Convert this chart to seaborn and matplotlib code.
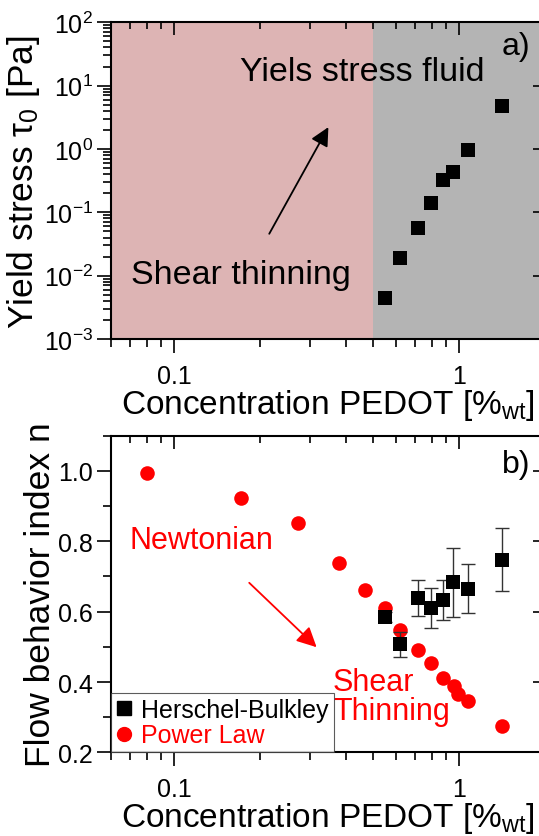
import matplotlib
matplotlib.use("Agg")
import matplotlib.pyplot as plt
import matplotlib.ticker as mticker
import numpy as np
import seaborn as sns

# ---------------------------------------------------------------
# Data
# ---------------------------------------------------------------
# a) yield stress from Herschel-Bulkley fits
hb_conc = [0.548, 0.618, 0.717, 0.796, 0.875, 0.955, 1.078, 1.41]
hb_tau0 = [0.0045, 0.019, 0.056, 0.14, 0.326, 0.435, 0.98, 4.73]

# b) flow behaviour index
hb_n = [0.585, 0.507, 0.639, 0.611, 0.632, 0.684, 0.665, 0.748]
hb_n_err = [0.015, 0.036, 0.052, 0.057, 0.057, 0.098, 0.069, 0.09]

pl_conc = [0.080, 0.171, 0.271, 0.380, 0.469, 0.548, 0.618, 0.717, 0.796,
           0.875, 0.960, 0.994, 1.078, 1.41]
pl_n = [0.995, 0.923, 0.853, 0.738, 0.662, 0.611, 0.547, 0.490, 0.454,
        0.412, 0.390, 0.366, 0.347, 0.276]

REGION_SPLIT = 0.5  # boundary shear thinning / yield stress fluid
X_LIM = (0.06, 2.0)
X_MAJOR = [0.1, 1]

PINK = "#ddb4b4"
GREY = "#b4b4b4"
RED = "#ff0000"

X_LABEL = "Concentration PEDOT [%$_{\\mathrm{wt}}$]"
TICK_FS = 18
LABEL_FS = 24
YLABEL_FS = 25.5


def log_minor():
    return mticker.LogLocator(base=10, subs=np.arange(2, 10), numticks=12)


def set_log_x(ax):
    ax.set_xscale("log")
    ax.set_xlim(*X_LIM)
    ax.xaxis.set_major_locator(mticker.FixedLocator(X_MAJOR))
    ax.xaxis.set_minor_locator(log_minor())
    ax.xaxis.set_minor_formatter(mticker.NullFormatter())


def style_axes(ax):
    set_log_x(ax)
    ax.xaxis.set_major_formatter(mticker.FixedFormatter(["0.1", "1"]))
    ax.tick_params(axis="both", which="both", width=1.2, direction="out",
                   top=False, right=False, labelsize=TICK_FS)
    ax.tick_params(axis="both", which="major", length=10)
    ax.tick_params(axis="both", which="minor", length=5.5)
    ax.tick_params(axis="x", which="major", pad=8)
    ax.tick_params(axis="y", which="major", pad=3)
    for sp in ax.spines.values():
        sp.set_linewidth(1.5)
        sp.set_color("black")

    # inward ticks on the top and right sides
    top = ax.twiny()
    set_log_x(top)
    top.xaxis.set_major_formatter(mticker.NullFormatter())
    top.tick_params(axis="x", which="both", direction="in", width=1.2,
                    top=True, bottom=False, labeltop=False, labelbottom=False)
    top.tick_params(axis="x", which="major", length=9)
    top.tick_params(axis="x", which="minor", length=5)

    right = ax.twinx()
    right.set_yscale(ax.get_yscale())
    right.set_ylim(ax.get_ylim())
    right.yaxis.set_major_locator(ax.yaxis.get_major_locator())
    right.yaxis.set_major_formatter(mticker.NullFormatter())
    right.yaxis.set_minor_formatter(mticker.NullFormatter())
    right.tick_params(axis="y", which="both", direction="in", width=1.2,
                      right=True, left=False, labelright=False, labelleft=False)
    right.tick_params(axis="y", which="major", length=9)
    right.tick_params(axis="y", which="minor", length=4)
    for tw in (top, right):
        for sp in tw.spines.values():
            sp.set_visible(False)
    return top, right


def main():
    sns.set_style("ticks")
    plt.rcParams["font.family"] = ["Liberation Sans", "DejaVu Sans"]
    plt.rcParams["mathtext.fontset"] = "custom"
    plt.rcParams["mathtext.rm"] = "Liberation Sans"
    plt.rcParams["mathtext.it"] = "Liberation Sans:italic"
    plt.rcParams["mathtext.bf"] = "Liberation Sans:bold"
    plt.rcParams["mathtext.default"] = "regular"
    for key in ["text.color", "axes.labelcolor", "xtick.color", "ytick.color"]:
        plt.rcParams[key] = "black"

    fig = plt.figure(figsize=(5.39, 8.37), dpi=100)
    ax_a = fig.add_axes([0.206, 0.5938, 0.805, 0.3784])
    ax_b = fig.add_axes([0.206, 0.0998, 0.805, 0.3785])

    # ------------------------------------------------------------------
    # a) yield stress
    # ------------------------------------------------------------------
    ax_a.axvspan(X_LIM[0], REGION_SPLIT, color=PINK, lw=0, zorder=0)
    ax_a.axvspan(REGION_SPLIT, X_LIM[1], color=GREY, lw=0, zorder=0)
    sns.scatterplot(x=hb_conc, y=hb_tau0, marker="s", s=95, color="black",
                    edgecolor="black", linewidth=0, ax=ax_a, zorder=3, legend=False)
    ax_a.set_yscale("log")
    ax_a.set_ylim(1e-3, 1e2)
    ax_a.yaxis.set_major_locator(mticker.LogLocator(base=10, numticks=12))
    ax_a.yaxis.set_major_formatter(mticker.LogFormatterMathtext())
    ax_a.yaxis.set_minor_locator(log_minor())
    ax_a.yaxis.set_minor_formatter(mticker.NullFormatter())
    top_a, right_a = style_axes(ax_a)
    right_a.yaxis.set_minor_locator(log_minor())

    ax_a.set_xlabel(X_LABEL, fontsize=LABEL_FS, labelpad=-1)
    ax_a.set_ylabel("Yield stress τ$_0$ [Pa]", fontsize=YLABEL_FS, labelpad=1)

    ax_a.text(0.297, 0.846, "Yiels stress fluid", transform=ax_a.transAxes,
              fontsize=24.5, ha="left", va="center")
    ax_a.text(0.045, 0.205, "Shear thinning", transform=ax_a.transAxes,
              fontsize=24.5, ha="left", va="center")
    ax_a.text(0.90, 0.926, "a)", transform=ax_a.transAxes,
              fontsize=23, ha="left", va="center")
    ax_a.annotate("", xy=(0.3475, 2.21), xytext=(0.2155, 0.0458),
                  arrowprops=dict(arrowstyle="-|>", color="black", lw=1.3,
                                  mutation_scale=28, shrinkA=0, shrinkB=0))

    # ------------------------------------------------------------------
    # b) flow behaviour index
    # ------------------------------------------------------------------
    sns.scatterplot(x=pl_conc, y=pl_n, marker="o", s=110, color=RED,
                    edgecolor=RED, linewidth=0, ax=ax_b, zorder=2, legend=False)
    ax_b.errorbar(hb_conc, hb_n, yerr=hb_n_err, fmt="none", ecolor="#333333",
                  elinewidth=1, capsize=5, capthick=1, zorder=3)
    sns.scatterplot(x=hb_conc, y=hb_n, marker="s", s=95, color="black",
                    edgecolor="black", linewidth=0, ax=ax_b, zorder=4, legend=False)
    ax_b.set_ylim(0.2, 1.1)
    ax_b.yaxis.set_major_locator(mticker.MultipleLocator(0.2))
    ax_b.yaxis.set_major_formatter(mticker.FormatStrFormatter("%.1f"))
    ax_b.yaxis.set_minor_locator(mticker.MultipleLocator(0.1))
    top_b, right_b = style_axes(ax_b)
    right_b.yaxis.set_minor_locator(mticker.NullLocator())

    ax_b.set_xlabel(X_LABEL, fontsize=LABEL_FS, labelpad=-1)
    ax_b.set_ylabel("Flow behavior index n", fontsize=YLABEL_FS, labelpad=1)

    ax_b.text(0.0415, 0.672, "Newtonian", transform=ax_b.transAxes,
              fontsize=22, color=RED, ha="left", va="center")
    ax_b.text(0.5115, 0.178, "Shear\nThinning", transform=ax_b.transAxes,
              fontsize=22, color=RED, ha="left", va="center", linespacing=0.95)
    ax_b.text(0.90, 0.911, "b)", transform=ax_b.transAxes,
              fontsize=23, ha="left", va="center")
    ax_b.annotate("", xy=(0.316, 0.499), xytext=(0.1833, 0.682),
                  arrowprops=dict(arrowstyle="-|>", color=RED, lw=1.3,
                                  mutation_scale=30, shrinkA=0, shrinkB=0))

    hb_handle = plt.Line2D([], [], marker="s", ls="", color="black", markersize=9.5)
    pl_handle = plt.Line2D([], [], marker="o", ls="", color=RED, markersize=10)
    leg = ax_b.legend([hb_handle, pl_handle], ["Herschel-Bulkley", "Power Law"],
                      loc="lower left", fontsize=18, frameon=True, fancybox=False,
                      borderaxespad=0, handlelength=0.6, handletextpad=0.4,
                      borderpad=0.2, labelspacing=0.05)
    leg.get_frame().set_edgecolor("#333333")
    leg.get_frame().set_linewidth(0.8)
    leg.get_texts()[0].set_color("black")
    leg.get_texts()[1].set_color(RED)

    fig.savefig("out.png", dpi=100)
    plt.close(fig)


if __name__ == "__main__":
    main()
